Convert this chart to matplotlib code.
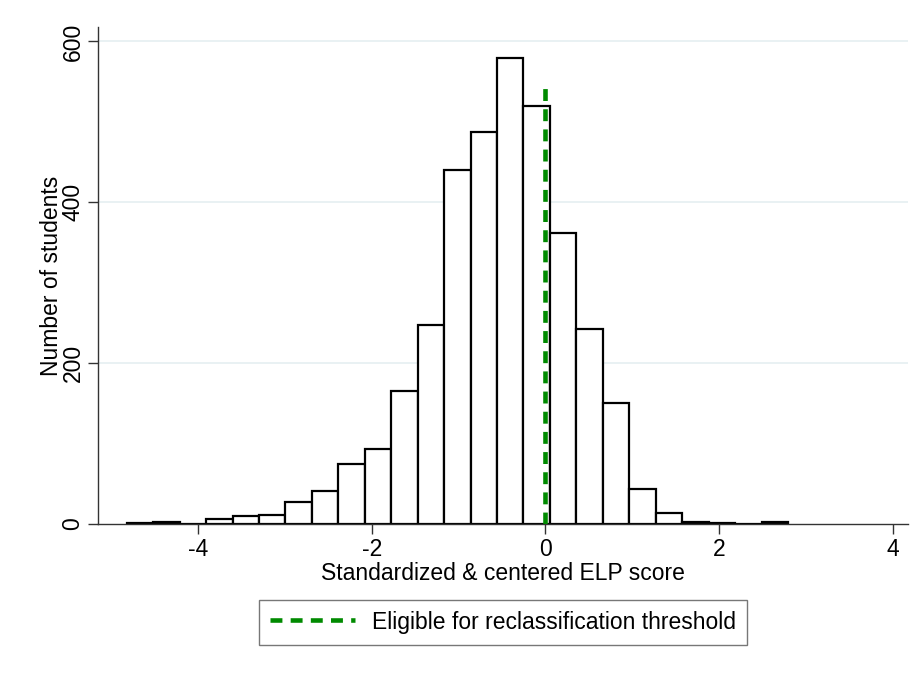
import numpy as np
import matplotlib
matplotlib.use("Agg")
import matplotlib.pyplot as plt
from matplotlib.lines import Line2D

# Histogram of standardized & centered ELP scores
bin_start = -4.821
bin_width = 0.3045
counts = [1, 3, 0, 6, 10, 11, 27, 41, 75, 93, 165, 248, 440, 487, 580,
          520, 362, 243, 150, 44, 14, 3, 1, 0, 2]
threshold = 0.0
threshold_top = 543
x_ticks = [-4, -2, 0, 2, 4]
y_ticks = [0, 200, 400, 600]
legend_label = "Eligible for reclassification threshold"

plt.rcParams["font.family"] = ["Liberation Sans", "DejaVu Sans"]
plt.rcParams["axes.unicode_minus"] = False
FS = 16.5

fig = plt.figure(figsize=(9.19, 6.73), dpi=100)
ax = fig.add_axes([0.107, 0.2214, 0.881, 0.7385])

left_edges = bin_start + bin_width * np.arange(len(counts))
ax.bar(left_edges, counts, width=bin_width, align="edge",
       facecolor="white", edgecolor="black", linewidth=1.6, zorder=2)

ax.plot([threshold, threshold], [0, threshold_top], color="#008a00",
        linewidth=3.3, dashes=(2.6, 1.8), zorder=3,
        dash_capstyle="butt")

ax.set_xlim(-5.148, 4.173)
ax.set_ylim(0, 618)
ax.set_xticks(x_ticks)
ax.set_yticks(y_ticks)

for y in y_ticks[1:]:
    ax.axhline(y, color="#e9f1f3", linewidth=1.4, zorder=0)

for side in ("top", "right"):
    ax.spines[side].set_visible(False)
for side in ("left", "bottom"):
    ax.spines[side].set_color("#333333")
    ax.spines[side].set_linewidth(1.0)

ax.tick_params(axis="both", direction="out", length=7, width=1.0,
               color="#333333", labelsize=FS, pad=3)
for lab in ax.get_yticklabels():
    lab.set_rotation(90)
    lab.set_va("center")

ax.set_xlabel("Standardized & centered ELP score", fontsize=FS, labelpad=1)
ax.set_ylabel("Number of students", fontsize=FS, labelpad=-1)

handle = Line2D([0], [0], color="#008a00", linewidth=3.3, dashes=(2.6, 1.8),
                dash_capstyle="butt")
leg = fig.legend([handle], [legend_label], loc="center",
                 bbox_to_anchor=(503 / 919, 1 - 622 / 673),
                 fontsize=FS, frameon=True, fancybox=False,
                 handlelength=3.7, handletextpad=0.75, borderpad=0.48,
                 borderaxespad=0)
leg.get_frame().set_edgecolor("#555555")
leg.get_frame().set_linewidth(1.0)

fig.savefig("out.png", dpi=100, facecolor="white")
